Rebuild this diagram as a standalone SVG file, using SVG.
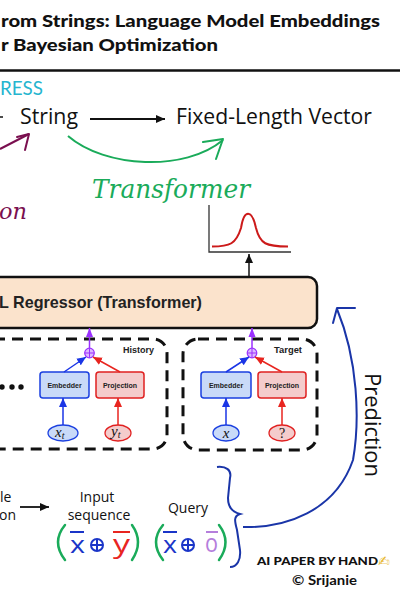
<svg xmlns="http://www.w3.org/2000/svg" width="400" height="600" viewBox="0 0 400 600">
<style>
.title{font-family:Lato,"Open Sans",sans-serif;font-weight:900;font-size:17px;fill:#111}
.hand{font-family:"Open Sans","DejaVu Sans",sans-serif;fill:#111}
.cur{font-family:"DejaVu Serif","Liberation Serif",serif;font-style:italic}
.lbl{font-family:"Liberation Sans",Arial,sans-serif;font-weight:bold;fill:#222}
.dash{fill:none;stroke:#111;stroke-width:3;stroke-dasharray:11 7}
.emb{fill:#c9daf8;stroke:#1a3fe0;stroke-width:1.5}
.proj{fill:#f4cccc;stroke:#e02020;stroke-width:1.5}
.math{font-family:"Liberation Serif","DejaVu Serif",serif;font-style:italic;fill:#111}
</style>
<defs>
<marker id="ab" markerUnits="userSpaceOnUse" markerWidth="10" markerHeight="10" refX="9" refY="5" orient="auto"><path d="M0,1 L9,5 L0,9 Z" fill="#111"/></marker>
<marker id="abl" markerUnits="userSpaceOnUse" markerWidth="10" markerHeight="10" refX="9" refY="5" orient="auto"><path d="M0,1 L9,5 L0,9 Z" fill="#1a35e6"/></marker>
<marker id="ar" markerUnits="userSpaceOnUse" markerWidth="10" markerHeight="10" refX="9" refY="5" orient="auto"><path d="M0,1 L9,5 L0,9 Z" fill="#e8251f"/></marker>
<marker id="ap" markerUnits="userSpaceOnUse" markerWidth="10" markerHeight="10" refX="9" refY="5" orient="auto"><path d="M0,1.5 L9,5 L0,8.5 Z" fill="#9b30ff"/></marker>
</defs>
<rect width="400" height="600" fill="#fff"/>
<g id="title">
<text class="title" x="1" y="27" textLength="379" lengthAdjust="spacingAndGlyphs">rom Strings: Language Model Embeddings</text>
<text class="title" x="1" y="51" textLength="217" lengthAdjust="spacingAndGlyphs">r Bayesian Optimization</text>
<line x1="0" y1="70.5" x2="400" y2="70.5" stroke="#111" stroke-width="2.5"/>
</g>
<g id="ress"><text x="0" y="95" font-family="Lato,sans-serif" font-size="19" fill="#26b5cf" textLength="43" lengthAdjust="spacingAndGlyphs">RESS</text></g>
<g id="string"><text class="hand" x="20" y="124" font-size="21" textLength="58" lengthAdjust="spacingAndGlyphs">String</text></g>
<g id="vector"><text class="hand" x="176" y="124" font-size="21" textLength="196" lengthAdjust="spacingAndGlyphs">Fixed-Length Vector</text></g>
<g id="transformer-label"><text class="cur" x="92" y="198" font-size="26" fill="#1aab5a" textLength="158" lengthAdjust="spacingAndGlyphs">Transformer</text></g>
<g id="on-label"><text class="cur" x="-1" y="219" font-size="22" fill="#7a0f4f" textLength="28" lengthAdjust="spacingAndGlyphs">on</text></g>
<g id="plot">
<polyline points="209,205 209,252 291,252" fill="none" stroke="#333" stroke-width="1.3"/>
<path d="M212,246.5 C230,246.5 236,244 241,228 C244,209 252,209 256,228 C260,244 266,246.5 288,246.5" fill="none" stroke="#cc1a1a" stroke-width="2"/>
</g>
<g id="regressor">
<rect x="-20" y="277" width="337" height="51" rx="9" fill="#fbe3cc" stroke="#111" stroke-width="2.5"/>
<text class="lbl" x="-1" y="308" font-size="17" fill="#111" textLength="203" lengthAdjust="spacingAndGlyphs">L Regressor (Transformer)</text>
</g>
<g id="history">
<rect class="dash" x="-20" y="339" width="187" height="110" rx="14"/>
<text class="lbl" x="123" y="353" font-size="8.5" textLength="31" lengthAdjust="spacingAndGlyphs">History</text>
<circle cx="2" cy="387" r="2.7" fill="#111"/><circle cx="12" cy="387" r="2.7" fill="#111"/><circle cx="21" cy="387" r="2.7" fill="#111"/>
<rect class="emb" x="40" y="372" width="49" height="26" rx="3"/>
<text class="lbl" x="64.5" y="388" font-size="7" text-anchor="middle">Embedder</text>
<rect class="proj" x="96" y="372" width="48" height="26" rx="3"/>
<text class="lbl" x="120" y="388" font-size="7" text-anchor="middle">Projection</text>
<ellipse cx="63" cy="433" rx="15" ry="8" fill="#c9daf8" stroke="#1a3fe0" stroke-width="1.3"/>
<text class="math" x="55" y="437" font-size="15">x<tspan font-size="10" dy="2">t</tspan></text>
<ellipse cx="118" cy="433" rx="13" ry="8" fill="#f4cccc" stroke="#e02020" stroke-width="1.3"/>
<text class="math" x="111" y="436" font-size="15">y<tspan font-size="10" dy="2">t</tspan></text>
<circle cx="89.5" cy="353" r="4.8" fill="#dcb8ff" stroke="#9b30ff" stroke-width="1.2"/>
<path d="M84.7,353 H94.3 M89.5,348.2 V357.8" stroke="#9b30ff" stroke-width="1"/>
</g>
<g id="target">
<rect class="dash" x="183" y="339" width="134" height="111" rx="15"/>
<text class="lbl" x="274" y="353" font-size="8.5" textLength="28" lengthAdjust="spacingAndGlyphs">Target</text>
<rect class="emb" x="201" y="372" width="50" height="26" rx="3"/>
<text class="lbl" x="226" y="388" font-size="7" text-anchor="middle">Embedder</text>
<rect class="proj" x="258" y="372" width="48" height="26" rx="3"/>
<text class="lbl" x="282" y="388" font-size="7" text-anchor="middle">Projection</text>
<ellipse cx="226" cy="433" rx="13" ry="8" fill="#c9daf8" stroke="#1a3fe0" stroke-width="1.3"/>
<text class="math" x="226" y="438" font-size="15" text-anchor="middle">x</text>
<ellipse cx="282" cy="433" rx="13" ry="8" fill="#f4cccc" stroke="#e02020" stroke-width="1.3"/>
<text x="282" y="438" font-size="14" text-anchor="middle" font-family="Liberation Serif,serif" fill="#111">?</text>
<circle cx="252" cy="353" r="4.8" fill="#dcb8ff" stroke="#9b30ff" stroke-width="1.2"/>
<path d="M247.2,353 H256.8 M252,348.2 V357.8" stroke="#9b30ff" stroke-width="1"/>
</g>
<g id="prediction-label"><text class="hand" transform="translate(365,373) rotate(90)" font-size="22" textLength="104" lengthAdjust="spacingAndGlyphs">Prediction</text></g>
<g id="bottom">
<text class="hand" x="0" y="502" font-size="14">le</text>
<text class="hand" x="-1" y="520" font-size="14">on</text>
<text class="hand" x="97" y="502" font-size="14" text-anchor="middle">Input</text>
<text class="hand" x="99" y="520" font-size="14" text-anchor="middle">sequence</text>
<text class="hand" x="188" y="513" font-size="14" text-anchor="middle">Query</text>
<g fill="none" stroke="#1aab5a" stroke-width="2.5" stroke-linecap="round">
<path d="M65,525 Q51,542 65,560"/><path d="M132,525 Q144,542 132,560"/>
<path d="M163,525 Q149,542 163,560"/><path d="M219,525 Q232,542 219,560"/>
</g>
<text x="70" y="553" font-family="Open Sans,sans-serif" font-size="23" fill="#1a35c8" textLength="15" lengthAdjust="spacingAndGlyphs">x</text>
<line x1="70" y1="532" x2="84" y2="532" stroke="#1a35c8" stroke-width="2"/>
<circle cx="97" cy="545" r="6" fill="none" stroke="#1a35c8" stroke-width="2"/>
<path d="M91,545 H103 M97,539 V551" stroke="#1a35c8" stroke-width="2"/>
<text x="113" y="553" font-family="Open Sans,sans-serif" font-size="25" fill="#e8251f" textLength="17" lengthAdjust="spacingAndGlyphs">y</text>
<line x1="113" y1="532" x2="130" y2="532" stroke="#e8251f" stroke-width="2"/>
<text x="163" y="553" font-family="Open Sans,sans-serif" font-size="23" fill="#1a35c8" textLength="14" lengthAdjust="spacingAndGlyphs">x</text>
<line x1="163" y1="532" x2="177" y2="532" stroke="#1a35c8" stroke-width="2"/>
<circle cx="188" cy="545" r="6" fill="none" stroke="#1a35c8" stroke-width="2"/>
<path d="M182,545 H194 M188,539 V551" stroke="#1a35c8" stroke-width="2"/>
<text x="205" y="552" font-family="Open Sans,sans-serif" font-size="25" fill="#b57edc" textLength="13" lengthAdjust="spacingAndGlyphs">o</text>
<line x1="206" y1="532" x2="218" y2="532" stroke="#b57edc" stroke-width="2"/>
<path d="M217,467 C226,466 232,470 230,478 L228,498 C228,507 232,512 240,514 C233,516 235,522 237,530 L240,550 C241,560 237,567 230,567" fill="none" stroke="#1a35a8" stroke-width="2"/>
</g>
<g id="credits">
<text x="257" y="565" font-family="Lato,sans-serif" font-weight="900" font-size="12" fill="#111" textLength="121" lengthAdjust="spacingAndGlyphs">AI PAPER BY HAND</text>
<text x="378" y="566" font-family="DejaVu Sans,sans-serif" font-size="14" fill="#e8b830">✍</text>
<text x="292" y="585" font-family="Lato,sans-serif" font-weight="bold" font-size="12.5" fill="#111" textLength="65" lengthAdjust="spacingAndGlyphs">© Srijanie</text>
</g>
<g id="connectors" fill="none">
<line x1="0" y1="117" x2="3" y2="117" stroke="#111" stroke-width="1.5"/>
<line x1="90" y1="119" x2="165" y2="119" stroke="#111" stroke-width="1.8" marker-end="url(#ab)"/>
<path d="M68,136 C105,168 185,172 223,140" stroke="#1aab5a" stroke-width="2"/>
<polyline points="203,142 223,139 216,159" stroke="#1aab5a" stroke-width="2" stroke-linecap="round" stroke-linejoin="round"/>
<line x1="0" y1="149" x2="29" y2="134" stroke="#7a0f4f" stroke-width="2"/>
<polyline points="17,137 29,134 25,150" stroke="#7a0f4f" stroke-width="2" stroke-linecap="round" stroke-linejoin="round"/>
<line x1="249" y1="277" x2="249" y2="254" stroke="#111" stroke-width="1.5" marker-end="url(#ab)"/>
<line x1="89.5" y1="348" x2="89.5" y2="328" stroke="#9b30ff" stroke-width="1.5" marker-end="url(#ap)"/>
<line x1="252" y1="348" x2="252" y2="328" stroke="#9b30ff" stroke-width="1.5" marker-end="url(#ap)"/>
<line x1="64" y1="372" x2="86" y2="357" stroke="#1a35e6" stroke-width="1.5" marker-end="url(#abl)"/>
<line x1="120" y1="372" x2="93" y2="357" stroke="#e8251f" stroke-width="1.5" marker-end="url(#ar)"/>
<line x1="226" y1="372" x2="249" y2="357" stroke="#1a35e6" stroke-width="1.5" marker-end="url(#abl)"/>
<line x1="282" y1="372" x2="255" y2="357" stroke="#e8251f" stroke-width="1.5" marker-end="url(#ar)"/>
<line x1="63" y1="425" x2="63" y2="398" stroke="#1a35e6" stroke-width="1.5" marker-end="url(#abl)"/>
<line x1="118" y1="425" x2="118" y2="398" stroke="#e8251f" stroke-width="1.5" marker-end="url(#ar)"/>
<line x1="226" y1="425" x2="226" y2="398" stroke="#1a35e6" stroke-width="1.5" marker-end="url(#abl)"/>
<line x1="282" y1="425" x2="282" y2="398" stroke="#e8251f" stroke-width="1.5" marker-end="url(#ar)"/>
<path d="M243,527 C285,528 335,512 353,460 C360,420 358,360 337,309" stroke="#1a35a8" stroke-width="2"/>
<polyline points="355,308 337,308 333,323" stroke="#1a35a8" stroke-width="2" stroke-linecap="round" stroke-linejoin="round"/>
<line x1="20" y1="507" x2="49" y2="507" stroke="#111" stroke-width="1.8" marker-end="url(#ab)"/>
</g>
</svg>
